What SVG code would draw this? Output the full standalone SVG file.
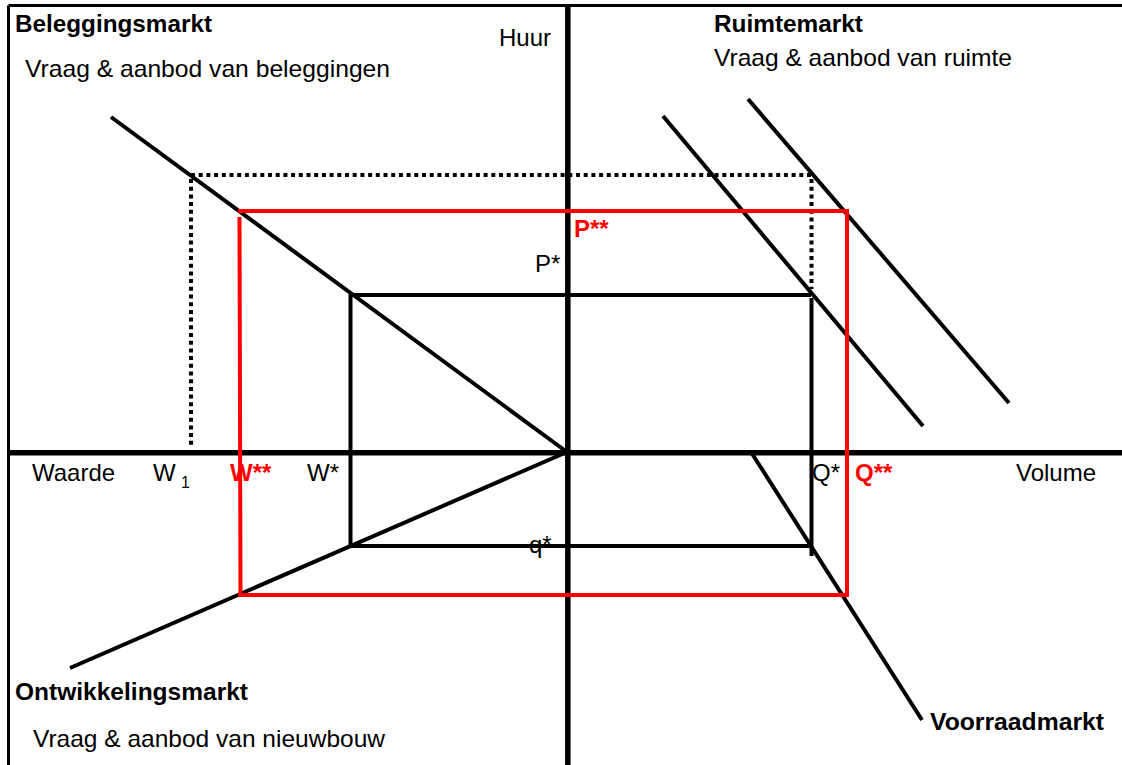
<svg xmlns="http://www.w3.org/2000/svg" width="1122" height="765" viewBox="0 0 1122 765">
<style>
text{font-family:"Liberation Sans",Arial,Helvetica,sans-serif;font-size:24px;fill:#000}
.b{font-weight:bold}
.r{fill:#ff0000;font-weight:bold}
.ln{stroke:#000;stroke-width:4;fill:none}
.ax{stroke:#000;stroke-width:5.5;fill:none}
.dot{stroke:#000;stroke-width:4;stroke-dasharray:4 3.7;fill:none}
.red{stroke:#ff0000;stroke-width:4;fill:none}
</style>
<rect width="1122" height="765" fill="#fff"/>
<g id="frame">
<path d="M8.5 5.5 H1122 M8.5 5.5 V765" stroke="#000" stroke-width="3" fill="none"/>
</g>
<g id="connectors">
<path class="ax" d="M8 452.8 H1122"/>
<path class="ax" d="M567.8 6 V765"/>
<path class="ln" d="M111 117 L567 452"/>
<path class="ln" d="M567 452 L70 668"/>
<path class="ln" d="M663 116 L923 426"/>
<path class="ln" d="M748 99 L1009 403"/>
<path class="ln" d="M751 452 L922 720"/>
<path class="dot" d="M191 175 H811"/>
<path class="dot" d="M191 179 V447"/>
<path class="dot" d="M811.5 179 V289"/>
<path class="ln" d="M350 295 H811"/>
<path class="ln" d="M350.5 293 V548"/>
<path class="ln" d="M811.5 298 V556"/>
<path class="ln" d="M350 546 H811"/>
<path class="red" d="M238 211 H847 V597"/>
<path class="red" d="M239.5 217 L240.5 595"/>
<path class="red" d="M238 595 H848"/>
</g>
<g id="beleggingsmarkt">
<text class="b" x="15" y="32" textLength="197" lengthAdjust="spacingAndGlyphs">Beleggingsmarkt</text>
<text x="25" y="77" textLength="365" lengthAdjust="spacingAndGlyphs">Vraag &amp; aanbod van beleggingen</text>
</g>
<g id="ruimtemarkt">
<text class="b" x="714" y="32" textLength="149" lengthAdjust="spacingAndGlyphs">Ruimtemarkt</text>
<text x="714" y="66" textLength="298" lengthAdjust="spacingAndGlyphs">Vraag &amp; aanbod van ruimte</text>
</g>
<g id="ontwikkelingsmarkt">
<text class="b" x="15" y="700" textLength="233" lengthAdjust="spacingAndGlyphs">Ontwikkelingsmarkt</text>
<text x="33" y="747" textLength="352" lengthAdjust="spacingAndGlyphs">Vraag &amp; aanbod van nieuwbouw</text>
</g>
<g id="voorraadmarkt">
<text class="b" x="930" y="730" textLength="174" lengthAdjust="spacingAndGlyphs">Voorraadmarkt</text>
</g>
<g id="axis-labels">
<text x="499" y="46">Huur</text>
<text x="32" y="481">Waarde</text>
<text x="1016" y="481">Volume</text>
<text x="153" y="481">W</text>
<text x="181" y="488" style="font-size:16px">1</text>
<text class="r" x="230" y="481">W**</text>
<text x="307" y="481">W*</text>
<text x="812" y="481">Q*</text>
<text class="r" x="855" y="481">Q**</text>
<text class="r" x="574" y="237">P**</text>
<text x="535" y="272">P*</text>
<text x="529" y="553">q*</text>
</g>
</svg>
